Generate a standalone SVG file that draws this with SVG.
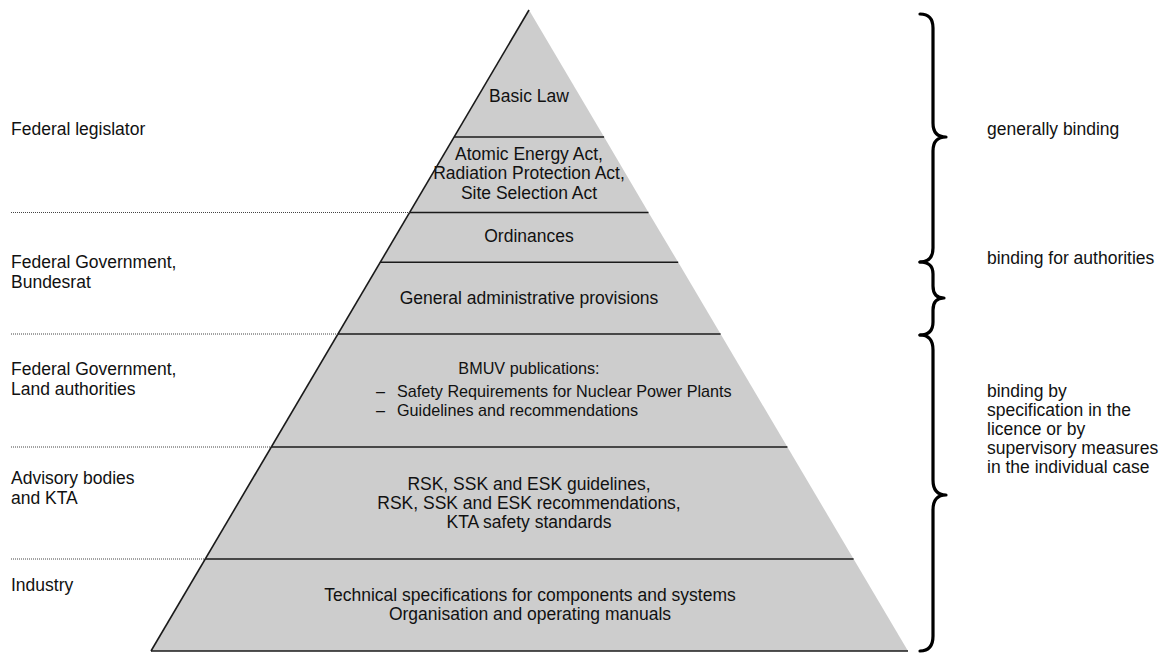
<svg xmlns="http://www.w3.org/2000/svg" width="1163" height="653" viewBox="0 0 1163 653">
<style>
.t{font-family:"Liberation Sans",Arial,sans-serif;font-size:17.5px;fill:#111}
.c{text-anchor:middle}
.s{font-size:16.2px}
.tier{fill:#cdcdcd;stroke:none}
.sep{stroke:#1a1a1a;stroke-width:1.6;fill:none}
.dot{stroke:#444;stroke-width:1;stroke-dasharray:1 1;fill:none}
.brace{stroke:#000;stroke-width:3.2;fill:none;stroke-linecap:round;stroke-linejoin:round}
</style>
<rect width="1163" height="653" fill="#fff"/>
<g id="tier-basic-law">
<polygon class="tier" points="529,10 604.1,137 454.1,137"/>
<text class="t c" x="529" y="102">Basic Law</text>
</g>
<g id="tier-acts">
<polygon class="tier" points="454.1,137 604.1,137 648.5,212.5 409.6,212.5"/>
<text class="t c" x="529" y="159.5">Atomic Energy Act,</text>
<text class="t c" x="529" y="179">Radiation Protection Act,</text>
<text class="t c" x="529" y="198.5">Site Selection Act</text>
</g>
<g id="tier-ordinances">
<polygon class="tier" points="409.6,212.5 648.5,212.5 678.2,262.3 380.2,262.3"/>
<text class="t c" x="529" y="241.5">Ordinances</text>
</g>
<g id="tier-admin">
<polygon class="tier" points="380.2,262.3 678.2,262.3 720.6,334 337.9,334"/>
<text class="t c" x="529" y="304">General administrative provisions</text>
</g>
<g id="tier-bmuv">
<polygon class="tier" points="337.9,334 720.6,334 787.4,447 271.3,447"/>
<text class="t s c" x="529" y="374">BMUV publications:</text>
<text class="t s" x="376" y="396.5">–</text>
<text class="t s" x="397" y="396.5">Safety Requirements for Nuclear Power Plants</text>
<text class="t s" x="376" y="415.5">–</text>
<text class="t s" x="397" y="415.5">Guidelines and recommendations</text>
</g>
<g id="tier-rsk">
<polygon class="tier" points="271.3,447 787.4,447 853.6,559 205.3,559"/>
<text class="t c" x="529" y="490">RSK, SSK and ESK guidelines,</text>
<text class="t c" x="529" y="509">RSK, SSK and ESK recommendations,</text>
<text class="t c" x="529" y="528">KTA safety standards</text>
</g>
<g id="tier-industry">
<polygon class="tier" points="205.3,559 853.6,559 908,651 151,651"/>
<text class="t c" x="530" y="601">Technical specifications for components and systems</text>
<text class="t c" x="530" y="620">Organisation and operating manuals</text>
</g>
<g id="connectors">
<line class="sep" x1="529" y1="10" x2="151" y2="651"/>
<line class="sep" x1="454.1" y1="137" x2="604.1" y2="137"/>
<line class="sep" x1="409.6" y1="212.5" x2="648.5" y2="212.5"/>
<line class="sep" x1="380.2" y1="262.3" x2="678.2" y2="262.3"/>
<line class="sep" x1="337.9" y1="334" x2="720.6" y2="334"/>
<line class="sep" x1="271.3" y1="447" x2="787.4" y2="447"/>
<line class="sep" x1="205.3" y1="559" x2="853.6" y2="559"/>
<line class="sep" x1="151" y1="651" x2="908" y2="651"/>
<line class="dot" x1="11" y1="212.5" x2="409.6" y2="212.5"/>
<line class="dot" x1="11" y1="334" x2="337.9" y2="334"/>
<line class="dot" x1="11" y1="447" x2="271.3" y2="447"/>
<line class="dot" x1="11" y1="559" x2="205.3" y2="559"/>
</g>
<g id="braces">
<path class="brace" d="M920,14 Q933,14 933,28 L933,123 Q933,137 946,137 Q933,137 933,151 L933,248 Q933,262 920,262"/>
<path class="brace" d="M920,262 Q933,262 933,274 L933,286 Q933,298 944,298 Q933,298 933,310 L933,322 Q933,335 920,335"/>
<path class="brace" d="M920,335 Q933,335 933,350 L933,480 Q933,495 946,495 Q933,495 933,510 L933,636 Q933,651 920,651"/>
</g>
<g id="left-labels">
<text class="t" x="11" y="135">Federal legislator</text>
<text class="t" x="11" y="268">Federal Government,</text>
<text class="t" x="11" y="288">Bundesrat</text>
<text class="t" x="11" y="375">Federal Government,</text>
<text class="t" x="11" y="395">Land authorities</text>
<text class="t" x="11" y="484">Advisory bodies</text>
<text class="t" x="11" y="504">and KTA</text>
<text class="t" x="11" y="590.5">Industry</text>
</g>
<g id="right-labels">
<text class="t" x="987" y="135">generally binding</text>
<text class="t" x="987" y="264">binding for authorities</text>
<text class="t" x="987" y="397">binding by</text>
<text class="t" x="987" y="416">specification in the</text>
<text class="t" x="987" y="435">licence or by</text>
<text class="t" x="987" y="454">supervisory measures</text>
<text class="t" x="987" y="473">in the individual case</text>
</g>
</svg>
